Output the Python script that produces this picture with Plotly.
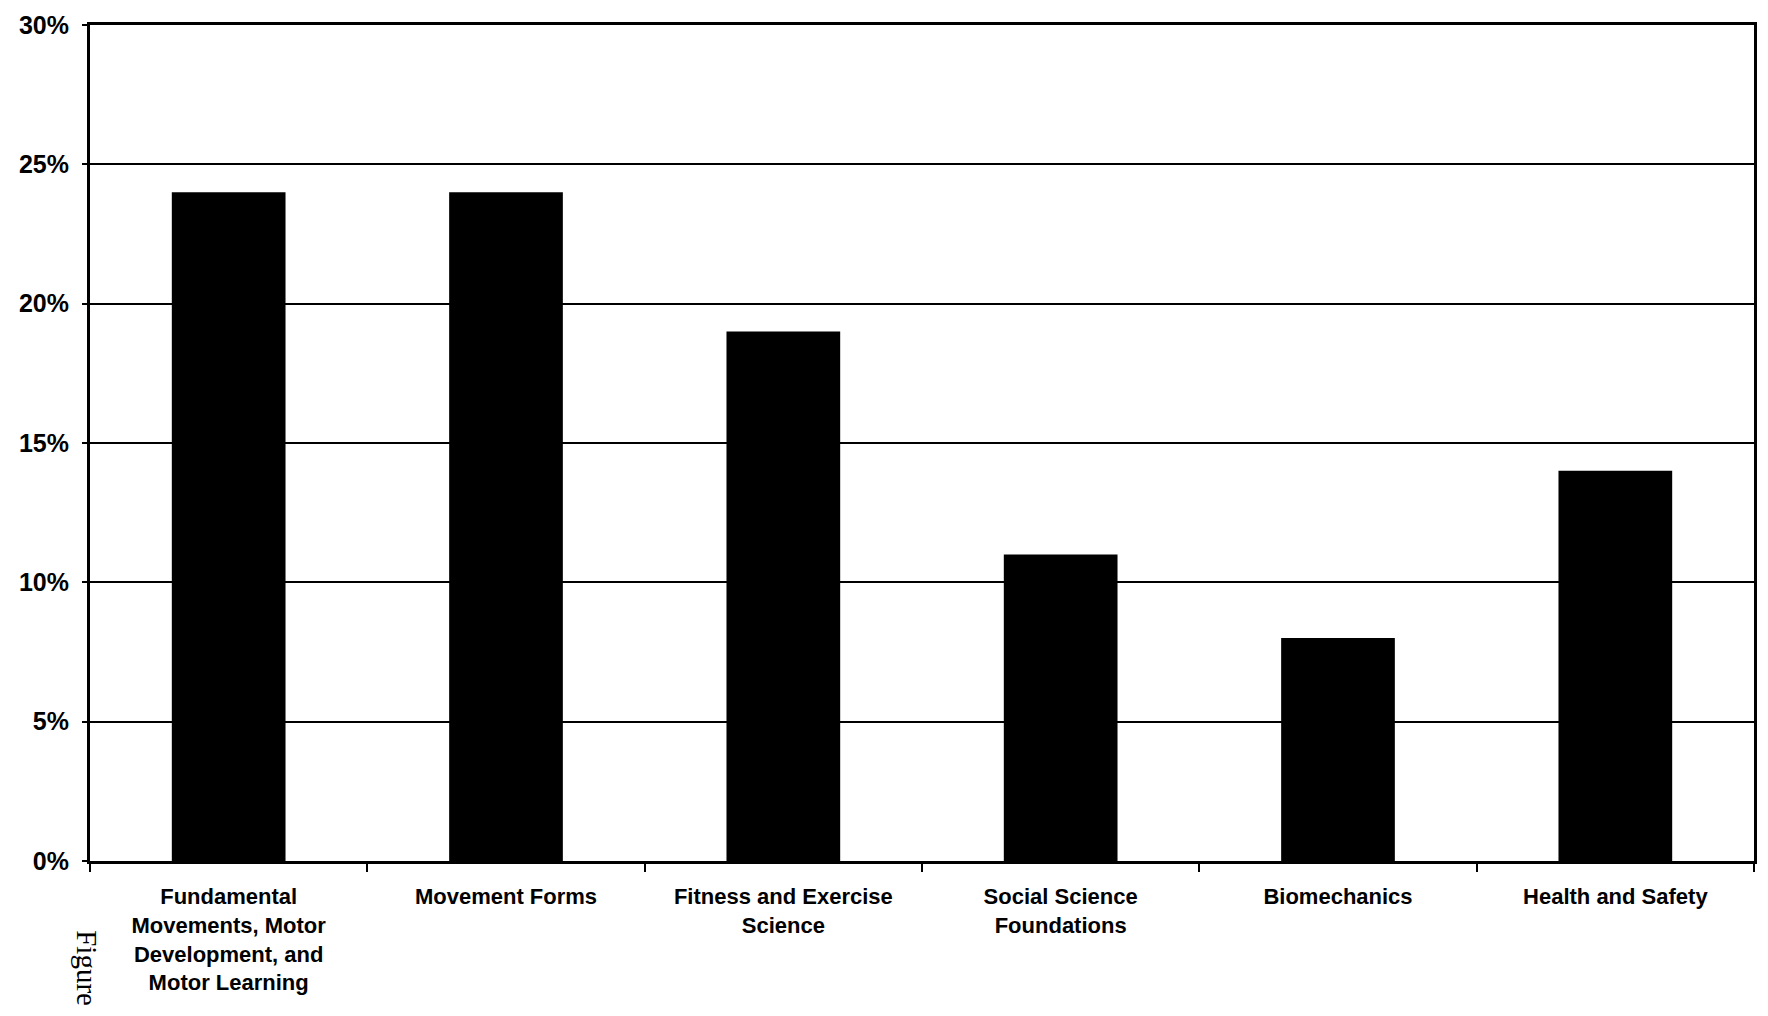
import plotly.graph_objects as go

categories = [
    "Fundamental<br>Movements, Motor<br>Development, and<br>Motor Learning",
    "Movement Forms",
    "Fitness and Exercise<br>Science",
    "Social Science<br>Foundations",
    "Biomechanics",
    "Health and Safety",
]
values = [24, 24, 19, 11, 8, 14]
y_ticks = [0, 5, 10, 15, 20, 25, 30]
y_tick_labels = ["%d%%" % v for v in y_ticks]

fig = go.Figure()
fig.add_trace(go.Bar(
    x=categories,
    y=values,
    marker=dict(color="black", line=dict(width=0)),
    width=0.41,
))

fig.update_layout(
    width=1768, height=1016,
    margin=dict(l=90, r=11, t=24, b=155),
    plot_bgcolor="white", paper_bgcolor="white",
    showlegend=False,
    bargap=0.59,
)
fig.update_xaxes(
    type="category",
    tickfont=dict(family="Liberation Sans Narrow, Arial Narrow, Liberation Sans", size=22,
                  color="black", weight="bold"),
    showline=True, linecolor="black", linewidth=3, mirror=True,
    ticks="outside", tickson="boundaries", ticklen=8, tickwidth=2, tickcolor="black",
    showgrid=False, zeroline=False,
    ticklabelstandoff=14,
    tickangle=0,
)
fig.update_yaxes(
    range=[0, 30],
    tickmode="array",
    tickvals=y_ticks,
    ticktext=y_tick_labels,
    tickfont=dict(family="Liberation Sans, Arial", size=25, color="black", weight="bold"),
    showline=True, linecolor="black", linewidth=3, mirror=True,
    ticks="outside", ticklen=5, tickwidth=2, tickcolor="black",
    showgrid=True, gridcolor="black", gridwidth=2,
    zeroline=False,
    ticklabelstandoff=8,
)
fig.add_annotation(
    text="Figure", textangle=90,
    xref="paper", yref="paper", x=-0.002, y=-0.08,
    xanchor="center", yanchor="top", showarrow=False,
    font=dict(family="Liberation Serif, Times New Roman", size=29, color="black"),
)
fig.write_html("out.html")
